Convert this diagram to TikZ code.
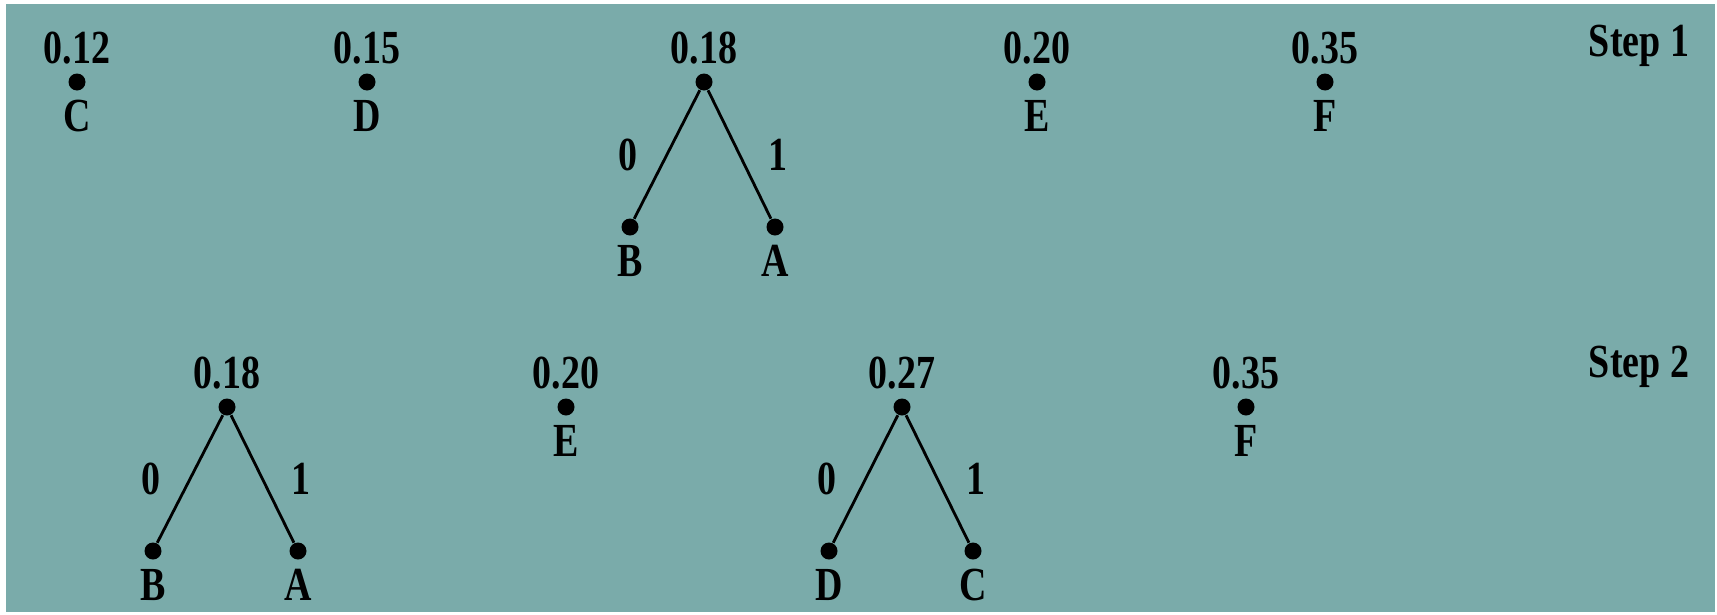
\documentclass[tikz,border=0pt]{standalone}
\usepackage{fontspec}
\setmainfont{Liberation Serif}[FakeStretch=0.8]
\usetikzlibrary{positioning}
\definecolor{bgteal}{HTML}{7AABAA}
\tikzset{
  dot/.style={circle, fill=black, inner sep=0pt, minimum size=1.7mm},
  tag/.style={font=\fontsize{13.5}{16}\selectfont\bfseries},
  every label/.style={tag},
  branch/.style={line width=0.8pt},
}
\begin{document}
\begin{tikzpicture}[label distance=-1pt]
                    % Background
                    \fill[white] (0,0) rectangle (17.17,6.14);
                    \fill[bgteal] (0.06,0.02) rectangle (17.15,6.10);
                    \useasboundingbox (0,0) rectangle (17.17,6.14);
                    % Step 1
                    \node[dot, label=above:0.12, label=below:C] (c1) at (0.77,5.32) {};
                    \node[dot, label=above:0.15, label=below:D] (d1) at (3.67,5.32) {};
                    \node[dot, label=above:0.18] (ba1) at (7.04,5.32) {};
                    \node[dot, label=below:B] (b1) at (6.30,3.87) {};
                    \node[dot, label=below:A] (a1) at (7.75,3.87) {};
                    \node[dot, label=above:0.20, label=below:E] (e1) at (10.37,5.32) {};
                    \node[dot, label=above:0.35, label=below:F] (f1) at (13.25,5.32) {};
                    \draw[branch] (ba1) -- node[tag, left=1.6mm] {0} (b1);
                    \draw[branch] (ba1) -- node[tag, right=1.6mm] {1} (a1);
                    \node[tag] (step1) at (16.39,5.68) {Step 1};
                    % Step 2
                    \node[dot, label=above:0.18] (ba2) at (2.27,2.07) {};
                    \node[dot, label=below:B] (b2) at (1.53,0.63) {};
                    \node[dot, label=below:A] (a2) at (2.98,0.63) {};
                    \node[dot, label=above:0.20, label=below:E] (e2) at (5.66,2.07) {};
                    \node[dot, label=above:0.27] (dc2) at (9.02,2.07) {};
                    \node[dot, label=below:D] (d2) at (8.29,0.63) {};
                    \node[dot, label=below:C] (c2) at (9.73,0.63) {};
                    \node[dot, label=above:0.35, label=below:F] (f2) at (12.46,2.07) {};
                    \draw[branch] (ba2) -- node[tag, left=1.6mm] {0} (b2);
                    \draw[branch] (ba2) -- node[tag, right=1.6mm] {1} (a2);
                    \draw[branch] (dc2) -- node[tag, left=1.6mm] {0} (d2);
                    \draw[branch] (dc2) -- node[tag, right=1.6mm] {1} (c2);
                    \node[tag] (step2) at (16.39,2.47) {Step 2};
                \end{tikzpicture}
\end{document}
